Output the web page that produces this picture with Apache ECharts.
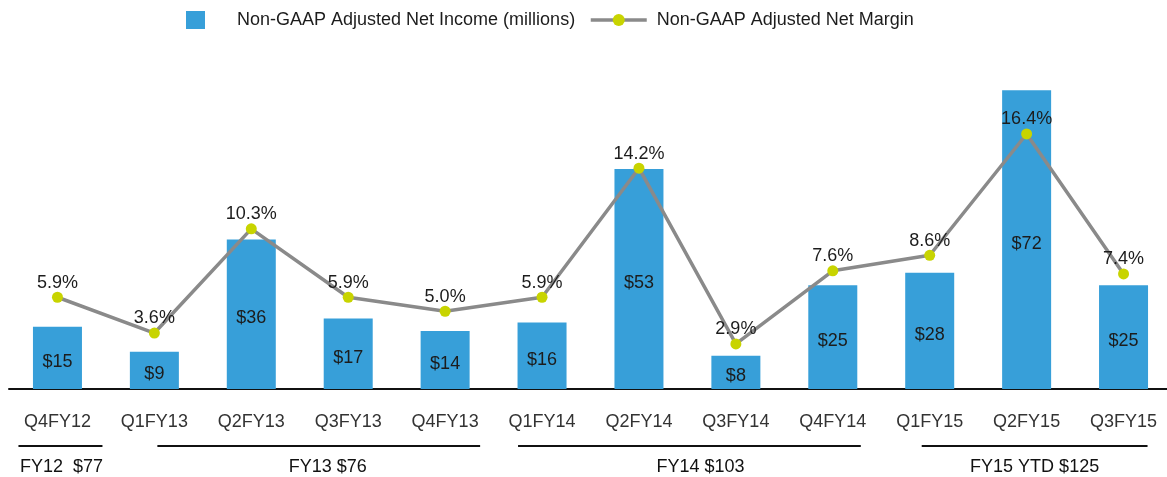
<!DOCTYPE html>
<html>
<head>
<meta charset="utf-8">
<script src="https://cdn.jsdelivr.net/npm/echarts/dist/echarts.min.js"></script>
<style>
  html, body { margin: 0; padding: 0; background: #fff; }
  #chart { width: 1167px; height: 477px; }
</style>
</head>
<body>
<div id="chart"></div>
<script>
// quarters and values
var quarters = ['Q4FY12', 'Q1FY13', 'Q2FY13', 'Q3FY13', 'Q4FY13', 'Q1FY14',
  'Q2FY14', 'Q3FY14', 'Q4FY14', 'Q1FY15', 'Q2FY15', 'Q3FY15'];
var netIncome = [15, 9, 36, 17, 14, 16, 53, 8, 25, 28, 72, 25];
var netMargin = [5.9, 3.6, 10.3, 5.9, 5.0, 5.9, 14.2, 2.9, 7.6, 8.6, 16.4, 7.4];

// fiscal year brackets under the axis
var fyLabels = ['FY12  $77', 'FY13 $76', 'FY14 $103', 'FY15 YTD $125'];
var fyFirst = [0, 1, 5, 9];
var fyLast = [0, 4, 8, 11];

var barName = 'Non-GAAP Adjusted Net Income (millions)';
var lineName = 'Non-GAAP Adjusted Net Margin';

var font = "'Liberation Sans', Arial, sans-serif";
var textColor = '#1c1c1c';

var chart = echarts.init(document.getElementById('chart'));

var option = {
  animation: false,
  textStyle: { fontFamily: font },
  legend: [{
    left: 186,
    top: 11,
    padding: 0,
    itemWidth: 19,
    itemHeight: 18,
    icon: 'rect',
    data: [barName],
    formatter: function(name) { return '{p|' + name + '}'; },
    textStyle: {
      fontSize: 18, color: textColor, fontFamily: font,
      rich: { p: { padding: [0, 0, 0, 27], fontSize: 18, color: textColor, fontFamily: font } }
    }
  }, {
    left: 589,
    top: 11,
    padding: 0,
    itemWidth: 56,
    itemHeight: 15,
    data: [lineName],
    lineStyle: { width: 3.5, color: '#8a8a8a' },
    textStyle: { fontSize: 18, color: textColor, fontFamily: font, padding: [0, 0, 0, 5] }
  }],
  grid: { left: 9, top: 57, width: 1163, bottom: 88, outerBoundsMode: 'none', containLabel: false },
  xAxis: {
    type: 'category',
    data: quarters,
    axisLine: { lineStyle: { color: '#111', width: 2 } },
    axisTick: { alignWithLabel: true, length: 8, lineStyle: { color: '#999', width: 1.5 } },
    axisLabel: { fontSize: 18, color: '#333', margin: 24, fontFamily: font }
  },
  yAxis: [
    { type: 'value', min: 0, max: 80, show: false },
    { type: 'value', min: 0, max: 21.35, show: false }
  ],
  series: [{
    name: barName,
    type: 'bar',
    data: netIncome,
    barWidth: 49,
    itemStyle: { color: '#379fd9' },
    label: {
      show: true,
      position: 'inside',
      offset: [0, 4],
      fontSize: 18,
      color: textColor,
      fontFamily: font,
      formatter: function(p) { return '$' + p.value; }
    }
  }, {
    name: lineName,
    type: 'line',
    yAxisIndex: 1,
    data: netMargin,
    symbol: 'circle',
    symbolSize: 11,
    lineStyle: { color: '#8a8a8a', width: 3.5 },
    itemStyle: { color: '#c8d400' },
    label: {
      show: true,
      position: 'top',
      distance: 0,
      fontSize: 18,
      color: textColor,
      fontFamily: font,
      formatter: function(p) { return p.value.toFixed(1) + '%'; }
    }
  }]
};
chart.setOption(option);

// bracket line ends relative to the first/last quarter centre, and text shift
var bracketPad = [[-39, 45, 1], [3, 35, 9], [-24, 28, 11], [-8, 24, 0]];
var lineY = 446;
var textY = 467;
var graphics = [];
for (var i = 0; i < fyLabels.length; i++) {
  var x0 = chart.convertToPixel({ xAxisIndex: 0 }, quarters[fyFirst[i]]) + bracketPad[i][0];
  var x1 = chart.convertToPixel({ xAxisIndex: 0 }, quarters[fyLast[i]]) + bracketPad[i][1];
  graphics.push({
    type: 'line',
    shape: { x1: x0, y1: lineY, x2: x1, y2: lineY },
    style: { stroke: '#111', lineWidth: 2 }
  });
  graphics.push({
    type: 'text',
    x: (x0 + x1) / 2 + bracketPad[i][2],
    y: textY,
    style: {
      text: fyLabels[i],
      fontSize: 18,
      fontFamily: font,
      fill: '#111',
      textAlign: 'center',
      textVerticalAlign: 'middle'
    }
  });
}
chart.setOption({ graphic: graphics });
</script>
</body>
</html>
